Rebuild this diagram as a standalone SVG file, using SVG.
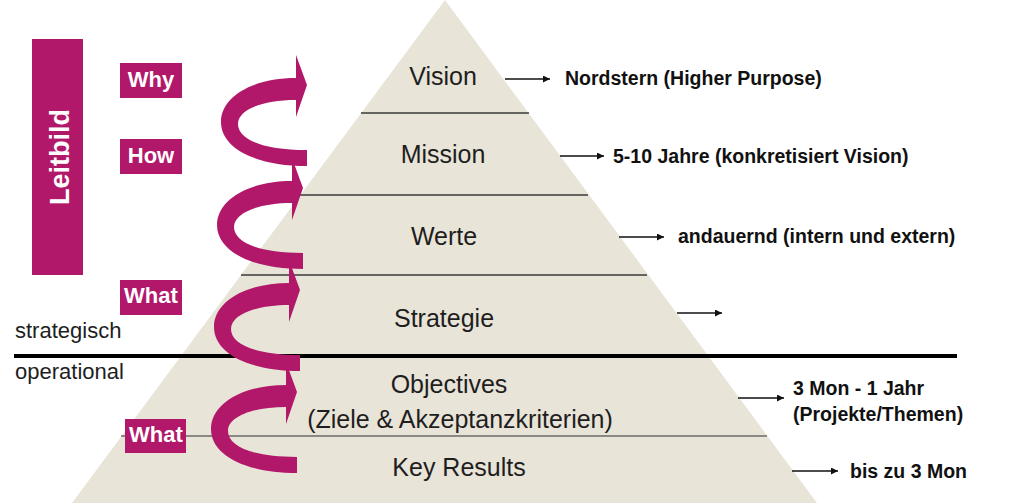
<svg xmlns="http://www.w3.org/2000/svg" width="1024" height="503" viewBox="0 0 1024 503">
<style>
.lvl{font-family:"Liberation Sans",Arial,sans-serif;font-size:25px;fill:#1e1e1e;text-anchor:middle}
.note{font-family:"Liberation Sans",Arial,sans-serif;font-size:19.5px;font-weight:bold;fill:#111}
.tag{fill:#B2186A}
.tagt{font-family:"Liberation Sans",Arial,sans-serif;font-size:22px;font-weight:bold;fill:#fff;text-anchor:middle}
.side{font-family:"Liberation Sans",Arial,sans-serif;font-size:22px;fill:#1e1e1e}
.sep{stroke:#3a3a3a;stroke-width:1.6}
.con{stroke:#111;stroke-width:1.6;fill:none;marker-end:url(#ah)}
.curl{fill:#B2186A}
</style>
<defs>
<marker id="ah" viewBox="0 0 10 10" refX="10" refY="5" markerUnits="userSpaceOnUse" markerWidth="9" markerHeight="7" orient="auto">
<path d="M0,0 L10,5 L0,10 z" fill="#111"/>
</marker>
<path id="carrow" d="M307,166 C255,166 221,148 221,122 C221,97 252,78 296,78 L296,55 L307,85 L296,117 L296,100 C262,100 238,110 238,124 C238,139 262,150 307,150 Z"/>
</defs>
<rect width="1024" height="503" fill="#fff"/>

<g id="pyramid">
<polygon points="445,0 817,503 72,503" fill="#E9E4D8"/>
<line class="sep" x1="361" y1="113" x2="529" y2="113"/>
<line class="sep" x1="300" y1="195" x2="588" y2="195"/>
<line class="sep" x1="241" y1="275" x2="647" y2="275"/>
<line x1="121" y1="436" x2="767" y2="436" stroke="#6a6a6a" stroke-width="1.6"/>
</g>

<g id="level-vision"><text class="lvl" x="443" y="85">Vision</text></g>
<g id="level-mission"><text class="lvl" x="443" y="163">Mission</text></g>
<g id="level-werte"><text class="lvl" x="444" y="245">Werte</text></g>
<g id="level-strategie"><text class="lvl" x="444" y="327">Strategie</text></g>
<g id="level-objectives"><text class="lvl" x="449" y="393">Objectives</text><text class="lvl" x="460" y="428">(Ziele &amp; Akzeptanzkriterien)</text></g>
<g id="level-keyresults"><text class="lvl" x="459" y="476">Key Results</text></g>

<g id="divider">
<line x1="14" y1="356" x2="957" y2="356" stroke="#000" stroke-width="4"/>
<text class="side" x="15" y="338">strategisch</text>
<text class="side" x="15" y="379">operational</text>
</g>

<g id="leitbild">
<rect class="tag" x="32" y="39" width="51" height="236"/>
<text transform="translate(69,157) rotate(-90)" x="0" y="0" font-family="'Liberation Sans',Arial,sans-serif" font-size="27" font-weight="bold" fill="#fff" text-anchor="middle">Leitbild</text>
</g>
<g id="tag-why"><rect class="tag" x="120" y="63" width="62" height="35"/><text class="tagt" x="151" y="87">Why</text></g>
<g id="tag-how"><rect class="tag" x="120" y="139" width="62" height="35"/><text class="tagt" x="151" y="163">How</text></g>
<g id="tag-what1"><rect class="tag" x="120" y="280" width="62" height="35"/><text class="tagt" x="151" y="303">What</text></g>
<g id="tag-what2"><rect class="tag" x="125" y="419" width="61" height="34"/><text class="tagt" x="156" y="442">What</text></g>

<g id="curls">
<use href="#carrow" class="curl"/>
<use href="#carrow" class="curl" transform="translate(-4,103)"/>
<use href="#carrow" class="curl" transform="translate(-7,205)"/>
<use href="#carrow" class="curl" transform="translate(-10,307)"/>
</g>

<g id="connectors">
<line class="con" x1="505" y1="79" x2="550" y2="79"/>
<line class="con" x1="560" y1="156" x2="604" y2="156"/>
<line class="con" x1="619" y1="237" x2="664" y2="237"/>
<line class="con" x1="677" y1="313" x2="722" y2="313"/>
<line class="con" x1="738" y1="398" x2="784" y2="398"/>
<line class="con" x1="792" y1="471" x2="838" y2="471"/>
</g>

<g id="note-vision"><text class="note" x="565" y="85">Nordstern (Higher Purpose)</text></g>
<g id="note-mission"><text class="note" x="613" y="163">5-10 Jahre (konkretisiert Vision)</text></g>
<g id="note-werte"><text class="note" x="678" y="243">andauernd (intern und extern)</text></g>
<g id="note-objectives"><text class="note" x="793" y="395">3 Mon - 1 Jahr</text><text class="note" x="793" y="421">(Projekte/Themen)</text></g>
<g id="note-keyresults"><text class="note" x="850" y="478">bis zu 3 Mon</text></g>
</svg>
